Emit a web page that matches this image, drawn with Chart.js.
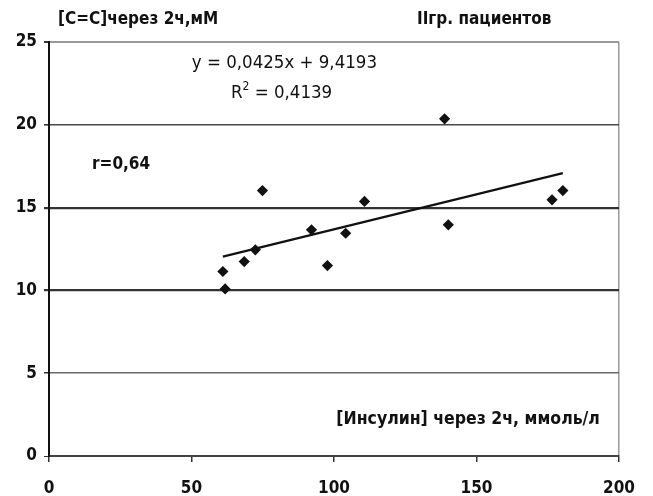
<!DOCTYPE html>
<html>
<head>
    <title>Инсулин и [C=C]</title>
    <script src="https://cdn.jsdelivr.net/npm/chart.js"></script>
    <style>
        body { margin: 0; background: #fff; }
    </style>
</head>
<body>
    <canvas id="myChart" width="653" height="496"></canvas>

    <script>
        // values
        var insulin = [61.0, 61.8, 68.5, 72.4, 74.9, 92.1, 97.7, 104.1, 110.7, 138.8, 140.1, 176.5, 180.3];
        var ccLevel = [11.14, 10.09, 11.74, 12.45, 16.03, 13.66, 11.50, 13.45, 15.37, 20.36, 13.96, 15.47, 16.03];
        var trendX = [61.0, 180.3];
        var trendY = [12.04, 17.08];
        var xTicks = [0, 50, 100, 150, 200];
        var yTicks = [0, 5, 10, 15, 20, 25];

        var FONT = "'Liberation Sans Narrow', 'DejaVu Sans Condensed', 'Liberation Sans', sans-serif";

        var points = insulin.map(function(v, i) { return {x: v, y: ccLevel[i]}; });
        var trend = trendX.map(function(v, i) { return {x: v, y: trendY[i]}; });

        // labels that sit on and around the plot
        var textPlugin = {
            id: 'texts',
            afterDraw: function(chart) {
                var ctx = chart.ctx;
                var xs = chart.scales.x, ys = chart.scales.y;
                ctx.save();
                ctx.fillStyle = '#111';
                ctx.textBaseline = 'middle';

                ctx.font = 'bold 17px ' + FONT;
                ctx.textAlign = 'left';
                ctx.fillText('[C=C]через 2ч,мМ', 58, 20);
                ctx.fillText('IIгр. пациентов', 417, 20);

                // regression equation
                ctx.font = '18.5px ' + FONT;
                ctx.textAlign = 'center';
                ctx.fillText('y = 0,0425x + 9,4193', xs.getPixelForValue(82.6), ys.getPixelForValue(23.75));

                // R² with a raised 2
                var cx = xs.getPixelForValue(81.6), cy = ys.getPixelForValue(21.9);
                ctx.textAlign = 'left';
                var wR = ctx.measureText('R').width;
                var wRest = ctx.measureText(' = 0,4139').width;
                ctx.font = '12px ' + FONT;
                var w2 = ctx.measureText('2').width;
                var x0 = cx - (wR + w2 + wRest) / 2;
                ctx.font = '18.5px ' + FONT;
                ctx.fillText('R', x0, cy);
                ctx.fillText(' = 0,4139', x0 + wR + w2, cy);
                ctx.font = '12px ' + FONT;
                ctx.fillText('2', x0 + wR, cy - 6);

                ctx.font = 'bold 17px ' + FONT;
                ctx.textAlign = 'left';
                ctx.fillText('r=0,64', xs.getPixelForValue(15.1), ys.getPixelForValue(17.6));

                ctx.font = 'bold 17.5px ' + FONT;
                ctx.textAlign = 'right';
                ctx.fillText('[Инсулин] через 2ч, ммоль/л', xs.getPixelForValue(193.3), ys.getPixelForValue(2.18));
                ctx.restore();
            }
        };

        var gridColors = {0: 'rgba(0,0,0,0)', 5: '#6a6a6a', 10: '#333', 15: '#333', 20: '#4a4a4a', 25: '#999'};
        var gridWidths = {0: 1, 5: 1.5, 10: 2.2, 15: 2.2, 20: 1.6, 25: 2};

        var chart = new Chart(document.getElementById('myChart'), {
            type: 'scatter',
            data: {
                datasets: [{
                    label: 'trend',
                    type: 'line',
                    data: trend,
                    borderColor: '#111',
                    borderWidth: 2.2,
                    pointRadius: 0,
                    fill: false
                }, {
                    label: 'patients',
                    data: points,
                    pointStyle: 'rectRot',
                    pointRadius: 5.6,
                    backgroundColor: '#111',
                    borderColor: '#111',
                    borderWidth: 0
                }]
            },
            options: {
                responsive: false,
                animation: false,
                layout: { padding: { top: 42, right: 34, left: 0, bottom: 0 } },
                plugins: {
                    legend: { display: false },
                    tooltip: { enabled: false }
                },
                scales: {
                    x: {
                        type: 'linear',
                        min: 0,
                        max: 200,
                        afterBuildTicks: function(s) { s.ticks = xTicks.map(function(v) { return {value: v}; }); },
                        afterFit: function(s) { s.height = 40; },
                        ticks: {
                            color: '#111',
                            padding: 16,
                            maxRotation: 0,
                            font: { family: FONT, size: 17, weight: 'bold' }
                        },
                        grid: {
                            color: function(c) { return c.tick && c.tick.value === 200 ? '#999' : 'rgba(0,0,0,0)'; },
                            lineWidth: 1.5,
                            tickColor: '#333',
                            tickLength: 6
                        },
                        border: { color: '#444', width: 2 }
                    },
                    y: {
                        min: 0,
                        max: 25,
                        afterBuildTicks: function(s) { s.ticks = yTicks.map(function(v) { return {value: v}; }); },
                        afterFit: function(s) { s.width = 49; },
                        ticks: {
                            color: '#111',
                            padding: 7,
                            font: { family: FONT, size: 17, weight: 'bold' }
                        },
                        grid: {
                            color: function(c) { return c.tick ? gridColors[c.tick.value] : '#333'; },
                            lineWidth: function(c) { return c.tick ? gridWidths[c.tick.value] : 1; },
                            tickColor: '#333',
                            tickLength: 5
                        },
                        border: { color: '#111', width: 2 }
                    }
                }
            },
            plugins: [textPlugin]
        });
    </script>
</body>
</html>
